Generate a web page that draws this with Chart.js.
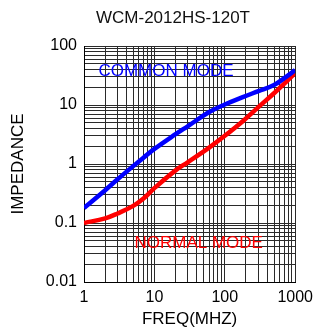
<!DOCTYPE html>
<html>
<head>
<meta charset="utf-8">
<script src="https://cdn.jsdelivr.net/npm/chart.js@4"></script>
<style>
  html, body { margin: 0; padding: 0; background: #fff; }
  #wrap { width: 319px; height: 333px; }
</style>
</head>
<body>
<div id="wrap"><canvas id="impChart" width="319" height="333"></canvas></div>
<script>
// impedance curve for WCM-2012HS-120T
const chartTitle = 'WCM-2012HS-120T';
const freqs = [1, 2, 3, 5, 7, 10, 20, 30, 60, 100, 180, 300, 500, 700, 1000];
const commonMode = [0.18, 0.36, 0.55, 0.92, 1.28, 1.8, 3.2, 4.4, 7.6, 10.2, 13.6, 17.2, 21.8, 28.5, 39];
const normalMode = [0.1, 0.12, 0.145, 0.195, 0.26, 0.39, 0.78, 1.08, 1.9, 3.0, 5.3, 9.2, 15.8, 23, 35];

const xLabels = [1, 10, 100, 1000];
const yLabels = [0.01, 0.1, 1, 10, 100];
const yLabelText = ['0.01', '0.1', '1', '10', '100'];

// grid lines at 1..9 of every decade
function decadeTicks(lo, hi) {
    const out = [];
    for (let d = lo; d < hi; d *= 10) {
        for (let k = 1; k < 10; k++) out.push(+(k * d).toPrecision(3));
    }
    out.push(hi);
    return out;
}

Chart.defaults.font.family = 'Arial, "Liberation Sans", sans-serif';
Chart.defaults.color = '#000';

// series labels and the title, drawn as plain text
const textPlugin = {
    id: 'textPlugin',
    afterDraw(chart) {
        const ctx = chart.ctx;
        const xs = chart.scales.x, ys = chart.scales.y;
        ctx.save();
        ctx.textAlign = 'center';
        ctx.textBaseline = 'middle';
        ctx.font = '17px Arial, "Liberation Sans", sans-serif';
        ctx.fillStyle = '#111';
        ctx.fillText(chartTitle, 173, 18);
        ctx.font = '17px Arial, "Liberation Sans", sans-serif';
        ctx.fillStyle = '#0000ff';
        ctx.fillText('COMMON MODE', xs.getPixelForValue(14.6), ys.getPixelForValue(37.7));
        ctx.fillStyle = '#ff0000';
        ctx.fillText('NORMAL MODE', xs.getPixelForValue(42.6), ys.getPixelForValue(0.046));
        ctx.restore();
    }
};

const minorGrid = ctx => (ctx.tick && ctx.tick.major) ? '#000' : '#2a2a2a';

new Chart(document.getElementById('impChart').getContext('2d'), {
    type: 'line',
    data: {
        datasets: [
            {
                label: 'COMMON MODE',
                data: freqs.map((f, i) => ({ x: f, y: commonMode[i] })),
                borderColor: '#0000ff',
                borderWidth: 4.5,
                pointRadius: 0,
                tension: 0.4,
                fill: false
            },
            {
                label: 'NORMAL MODE',
                data: freqs.map((f, i) => ({ x: f, y: normalMode[i] })),
                borderColor: '#ff0000',
                borderWidth: 4.5,
                pointRadius: 0,
                tension: 0.4,
                fill: false
            }
        ]
    },
    options: {
        responsive: false,
        animation: false,
        layout: { padding: { top: 46, right: 20, left: 0, bottom: 0 } },
        plugins: {
            legend: { display: false },
            tooltip: { enabled: false }
        },
        scales: {
            x: {
                type: 'logarithmic',
                min: 1,
                max: 1000,
                afterBuildTicks: s => { s.ticks = decadeTicks(1, 1000).map(v => ({ value: v })); },
                afterFit: s => { s.height = 51; },
                ticks: {
                    autoSkip: false,
                    maxRotation: 0,
                    padding: 6,
                    font: { size: 16 },
                    callback: v => xLabels.includes(v) ? String(v) : ''
                },
                grid: {
                    drawTicks: false,
                    color: minorGrid,
                    lineWidth: 1
                },
                border: { color: '#000', width: 1 },
                title: {
                    display: true,
                    text: 'FREQ(MHZ)',
                    font: { size: 17 },
                    padding: { top: 0, bottom: 3 }
                }
            },
            y: {
                type: 'logarithmic',
                min: 0.01,
                max: 100,
                afterBuildTicks: s => { s.ticks = decadeTicks(0.01, 100).map(v => ({ value: v })); },
                afterFit: s => { s.width = 84; },
                ticks: {
                    autoSkip: false,
                    padding: 7,
                    font: { size: 16 },
                    callback: v => {
                        const i = yLabels.indexOf(+v.toPrecision(3));
                        return i >= 0 ? yLabelText[i] : '';
                    }
                },
                grid: {
                    drawTicks: false,
                    color: minorGrid,
                    lineWidth: 1
                },
                border: { color: '#000', width: 1 },
                title: {
                    display: true,
                    text: 'IMPEDANCE',
                    font: { size: 17 },
                    padding: { top: 8, bottom: 0 }
                }
            }
        }
    },
    plugins: [textPlugin]
});
</script>
</body>
</html>
